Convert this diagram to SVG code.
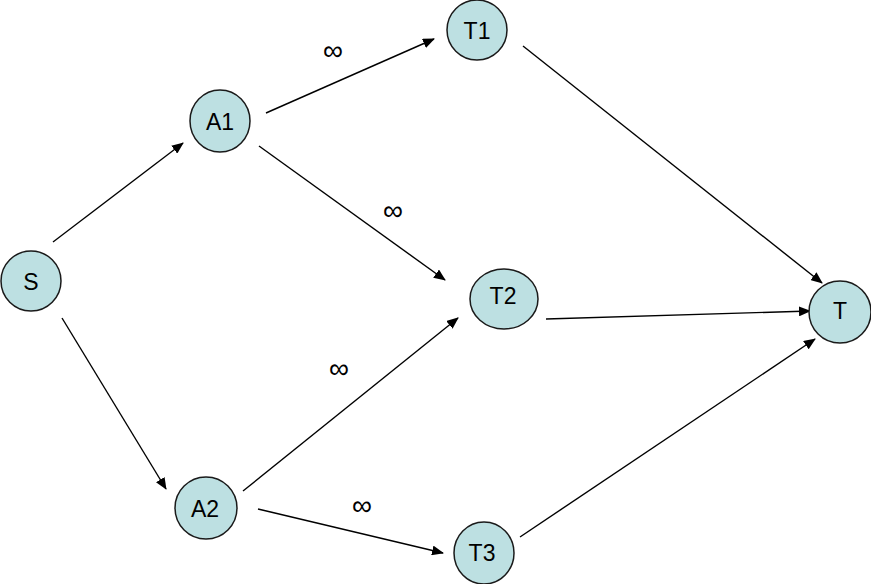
<svg xmlns="http://www.w3.org/2000/svg" width="871" height="584" viewBox="0 0 871 584">
<defs>
<marker id="ah" markerWidth="12" markerHeight="10" refX="11" refY="5" orient="auto" markerUnits="userSpaceOnUse">
<path d="M0,0 L12,5 L0,10 z" fill="#000"/>
</marker>
<style>
.n ellipse{fill:#bde0e2;stroke:#1a1a1a;stroke-width:1.5}
.n text{font-family:"Liberation Sans",Arial,sans-serif;font-size:23px;fill:#000;text-anchor:middle;dominant-baseline:central}
.e line{stroke:#000;stroke-width:1.4;marker-end:url(#ah)}
.lbl{font-family:"Liberation Sans",Arial,sans-serif;font-size:28px;fill:#000;text-anchor:middle;dominant-baseline:central}
</style>
</defs>
<rect width="871" height="584" fill="#fff"/>
<g id="edges" class="e">
<line x1="53" y1="242" x2="183" y2="143"/>
<line x1="62" y1="318" x2="166" y2="489"/>
<line x1="266" y1="113" x2="434" y2="39"/>
<line x1="259" y1="146" x2="445" y2="280"/>
<line x1="243" y1="491" x2="458" y2="318"/>
<line x1="258" y1="509" x2="443" y2="553"/>
<line x1="523" y1="46" x2="822" y2="283"/>
<line x1="546" y1="319" x2="810" y2="311"/>
<line x1="520" y1="537" x2="815" y2="339"/>
</g>
<g id="labels">
<text class="lbl" x="333" y="50">∞</text>
<text class="lbl" x="393" y="210">∞</text>
<text class="lbl" x="339" y="368">∞</text>
<text class="lbl" x="362" y="505">∞</text>
</g>
<g id="S" class="n"><ellipse cx="31" cy="281" rx="30" ry="30"/><text x="31" y="282">S</text></g>
<g id="A1" class="n"><ellipse cx="220" cy="121" rx="30" ry="31"/><text x="220" y="122">A1</text></g>
<g id="A2" class="n"><ellipse cx="206" cy="508" rx="31" ry="31"/><text x="205" y="509">A2</text></g>
<g id="T1" class="n"><ellipse cx="477" cy="30" rx="30" ry="30"/><text x="477" y="31">T1</text></g>
<g id="T2" class="n"><ellipse cx="504" cy="299" rx="34" ry="30"/><text x="503" y="296">T2</text></g>
<g id="T3" class="n"><ellipse cx="484" cy="553" rx="30" ry="31"/><text x="482" y="553">T3</text></g>
<g id="T" class="n"><ellipse cx="840" cy="312" rx="31" ry="31"/><text x="840" y="311">T</text></g>
</svg>
